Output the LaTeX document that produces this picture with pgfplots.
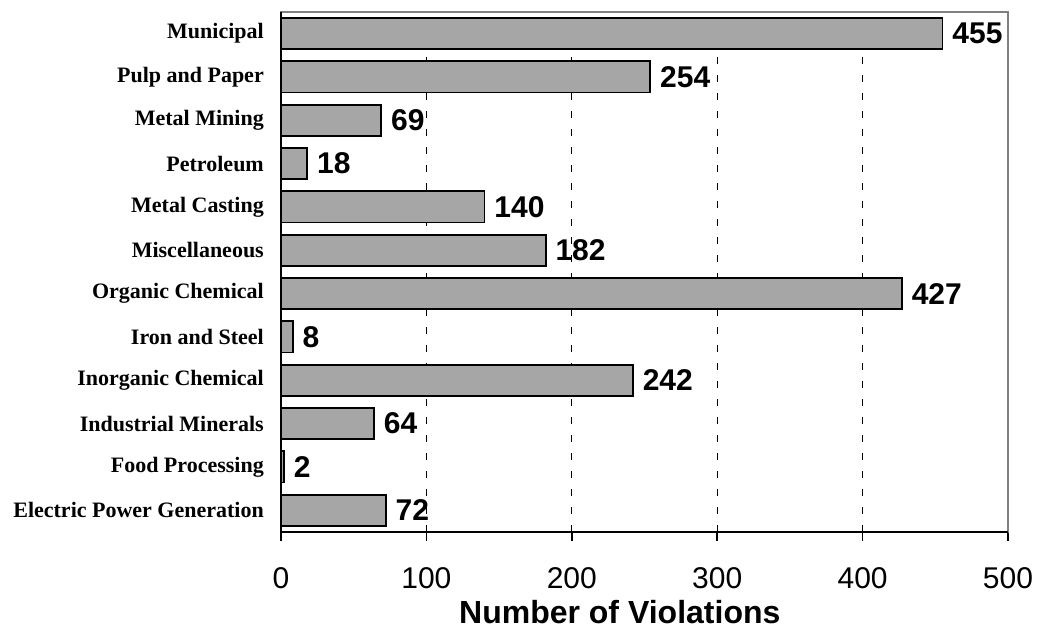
\documentclass[border=0pt]{standalone}
\usepackage{pgfplots}
\pgfplotsset{compat=1.18}
\usepackage{fontspec}
\setmainfont{Liberation Serif}
\newfontfamily\arialfont{Liberation Sans}
\definecolor{barfill}{RGB}{166,166,166}
\definecolor{framegray}{RGB}{128,128,128}
\begin{document}
\begin{tikzpicture}[x=1pt,y=1pt]
\useasboundingbox (0,0) rectangle (1037,631);
\begin{axis}[
  at={(281pt,99pt)}, anchor=south west,
  scale only axis, width=727pt, height=520pt,
  clip=false,
  xbar, bar width=0.72,
  xmin=0, xmax=500, ymin=-0.5, ymax=11.5,
  /pgf/number format/assume math mode=true,
  xtick={0,100,...,500},
  xtick pos=bottom, ytick pos=left,
  tick align=outside,
  major tick length=9pt,
  xmajorgrids,
  grid style={black, line width=1pt, dash pattern=on 7pt off 11pt},
  axis line style={framegray, line width=1.5pt},
  xtick style={black, line width=1.5pt},
  ytick={0,1,...,11},
  ytick style={draw=none},
  yticklabels={Electric Power Generation,Food Processing,Industrial Minerals,Inorganic Chemical,Iron and Steel,Organic Chemical,Miscellaneous,Metal Casting,Petroleum,Metal Mining,Pulp and Paper,Municipal},
  yticklabel style={font=\bfseries\fontsize{22}{22}\selectfont, anchor=east, inner sep=0pt, xshift=-8pt},
  extra y ticks={-0.5,0.5,...,11.5},
  extra y tick labels={},
  extra y tick style={major tick length=6pt, tick style={black, line width=1.2pt}},
  xticklabel style={font=\arialfont\fontsize{30}{30}\selectfont, anchor=north, inner sep=0pt, yshift=-26pt},
  xlabel={Number of Violations},
  xlabel style={at={(axis description cs:0.466,0)}, anchor=base, inner sep=0pt, yshift=-92pt,
    font=\arialfont\bfseries\fontsize{32}{32}\selectfont},
]
\addplot[draw=black, fill=barfill, line width=1.8pt,
  nodes near coords,
  nodes near coords style={font=\arialfont\bfseries\fontsize{30}{30}\selectfont, anchor=west, inner sep=0pt, xshift=9pt}]
  coordinates {(72,0) (2,1) (64,2) (242,3) (8,4) (427,5) (182,6) (140,7) (18,8) (69,9) (254,10) (455,11)};
\draw[black, line width=1.5pt] (rel axis cs:0,1) -- (rel axis cs:0,0) -- (rel axis cs:1,0);
\end{axis}
\end{tikzpicture}
\end{document}
